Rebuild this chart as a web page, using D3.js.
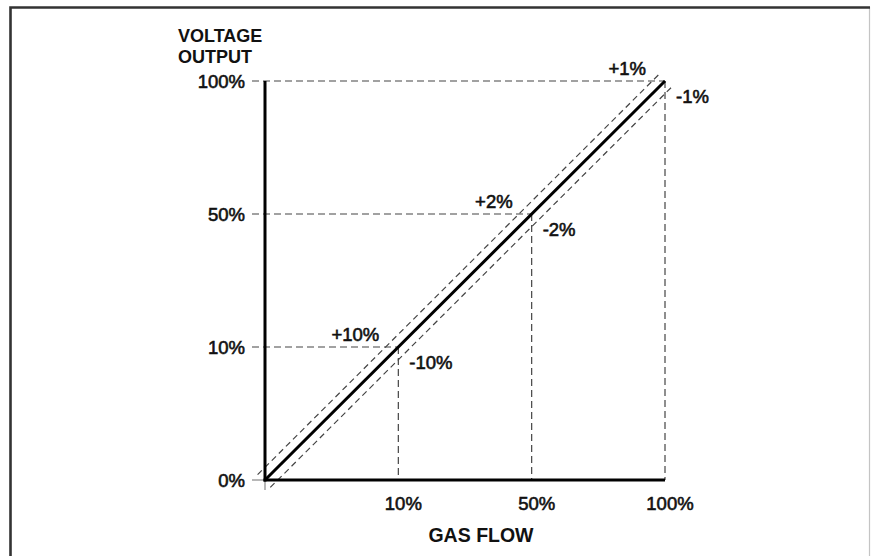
<!DOCTYPE html>
<html>
<head>
<meta charset="utf-8">
<script src="https://cdn.jsdelivr.net/npm/d3@7"></script>
<style>
  html, body { margin: 0; padding: 0; background: #fff; }
  svg { display: block; }
  text { font-family: "Liberation Sans", Arial, Helvetica, sans-serif; fill: #111; }
</style>
</head>
<body>
<svg id="chart" width="871" height="556"></svg>
<script>
// ---- data ----
const tickLabels = ["0%", "10%", "50%", "100%"];     // gas flow / voltage output positions
const guidePoints = ["10%", "50%", "100%"];          // marked calibration points
const plusLabels  = ["+10%", "+2%", "+1%"];          // upper tolerance at each point
const minusLabels = ["-10%", "-2%", "-1%"];          // lower tolerance at each point
const yTitle = ["VOLTAGE", "OUTPUT"];
const xTitle = "GAS FLOW";

// ---- layout ----
const svg = d3.select("#chart");
const x = d3.scalePoint().domain(tickLabels).range([265, 665]);
const y = d3.scalePoint().domain(tickLabels).range([480, 81]);

// frame
svg.append("rect").attr("x", 0).attr("y", 0).attr("width", 871).attr("height", 556).attr("fill", "#fff");
svg.append("line").attr("x1", 869.5).attr("x2", 869.5).attr("y1", 7).attr("y2", 556)
   .attr("stroke", "#c4c4c4").attr("stroke-width", 1.2);
svg.append("path").attr("d", "M10.5,556 V7.5 H870")
   .attr("fill", "none").attr("stroke", "#333").attr("stroke-width", 2.6);

const dashColor = "#444";

// horizontal guides (from left of axis to diagonal point)
svg.selectAll("line.hguide").data(guidePoints).join("line")
  .attr("class", "hguide")
  .attr("x1", 252).attr("x2", d => x(d))
  .attr("y1", d => y(d)).attr("y2", d => y(d))
  .attr("stroke", dashColor).attr("stroke-width", 1.2)
  .attr("stroke-dasharray", "7,4");

// vertical guides (from diagonal point down to axis)
svg.selectAll("line.vguide").data(guidePoints).join("line")
  .attr("class", "vguide")
  .attr("x1", d => x(d)).attr("x2", d => x(d))
  .attr("y1", d => y(d)).attr("y2", y("0%"))
  .attr("stroke", dashColor).attr("stroke-width", 1.2)
  .attr("stroke-dasharray", "7,4");

// origin ticks
svg.append("line").attr("x1", 252).attr("x2", x("0%")).attr("y1", y("0%")).attr("y2", y("0%"))
   .attr("stroke", "#888").attr("stroke-width", 1.2);
svg.append("line").attr("x1", x("0%")).attr("x2", x("0%")).attr("y1", y("0%")).attr("y2", y("0%") + 10)
   .attr("stroke", "#888").attr("stroke-width", 1.2);

// tolerance band lines parallel to the diagonal
const p0 = [x(tickLabels[0]), y(tickLabels[0])];
const p1 = [x(tickLabels[tickLabels.length - 1]), y(tickLabels[tickLabels.length - 1])];
const len = Math.hypot(p1[0] - p0[0], p1[1] - p0[1]);
const u = [(p1[0] - p0[0]) / len, (p1[1] - p0[1]) / len];
const n = [u[1], -u[0]];  // toward upper-left
const off = 9, ext = 1.5;
[1, -1].forEach(s => {
  svg.append("line")
    .attr("x1", p0[0] + s * n[0] * off - u[0] * ext)
    .attr("y1", p0[1] + s * n[1] * off - u[1] * ext)
    .attr("x2", p1[0] + s * n[0] * off + u[0] * ext)
    .attr("y2", p1[1] + s * n[1] * off + u[1] * ext)
    .attr("stroke", dashColor).attr("stroke-width", 1.2)
    .attr("stroke-dasharray", "6,4");
});

// axes
svg.append("line").attr("x1", x("0%")).attr("x2", x("0%")).attr("y1", y("100%")).attr("y2", y("0%") + 1.5)
   .attr("stroke", "#000").attr("stroke-width", 3);
svg.append("line").attr("x1", x("0%") - 1.5).attr("x2", x("100%")).attr("y1", y("0%")).attr("y2", y("0%"))
   .attr("stroke", "#000").attr("stroke-width", 3);

// diagonal response line
svg.append("line").attr("x1", p0[0]).attr("y1", p0[1]).attr("x2", p1[0]).attr("y2", p1[1])
   .attr("stroke", "#000").attr("stroke-width", 3);

// tick labels
const tickFont = 18.5, tickStroke = 0.6;
svg.selectAll("text.ylab").data(tickLabels).join("text")
  .attr("class", "ylab")
  .attr("x", 245).attr("y", d => y(d) + 7)
  .attr("text-anchor", "end").attr("font-size", tickFont)
  .attr("stroke", "#111").attr("stroke-width", tickStroke)
  .text(d => d);
svg.selectAll("text.xlab").data(tickLabels.slice(1)).join("text")
  .attr("class", "xlab")
  .attr("x", d => x(d) + 5).attr("y", 510)
  .attr("text-anchor", "middle").attr("font-size", tickFont)
  .attr("stroke", "#111").attr("stroke-width", tickStroke)
  .text(d => d);

// tolerance labels
svg.selectAll("text.plus").data(guidePoints).join("text")
  .attr("class", "plus")
  .attr("x", d => x(d) - 19).attr("y", d => y(d) - 6)
  .attr("text-anchor", "end").attr("font-size", tickFont)
  .attr("stroke", "#111").attr("stroke-width", tickStroke)
  .text((d, i) => plusLabels[i]);
svg.selectAll("text.minus").data(guidePoints).join("text")
  .attr("class", "minus")
  .attr("x", d => x(d) + 11).attr("y", d => y(d) + 22)
  .attr("text-anchor", "start").attr("font-size", tickFont)
  .attr("stroke", "#111").attr("stroke-width", tickStroke)
  .text((d, i) => minusLabels[i]);

// axis titles
svg.selectAll("text.ytitle").data(yTitle).join("text")
  .attr("class", "ytitle")
  .attr("x", 178).attr("y", (d, i) => 42 + i * 21)
  .attr("font-size", 18).attr("font-weight", "bold")
  .text(d => d);
svg.append("text")
  .attr("x", 481).attr("y", 542)
  .attr("text-anchor", "middle").attr("font-size", 19.5).attr("font-weight", "bold")
  .text(xTitle);
</script>
</body>
</html>
